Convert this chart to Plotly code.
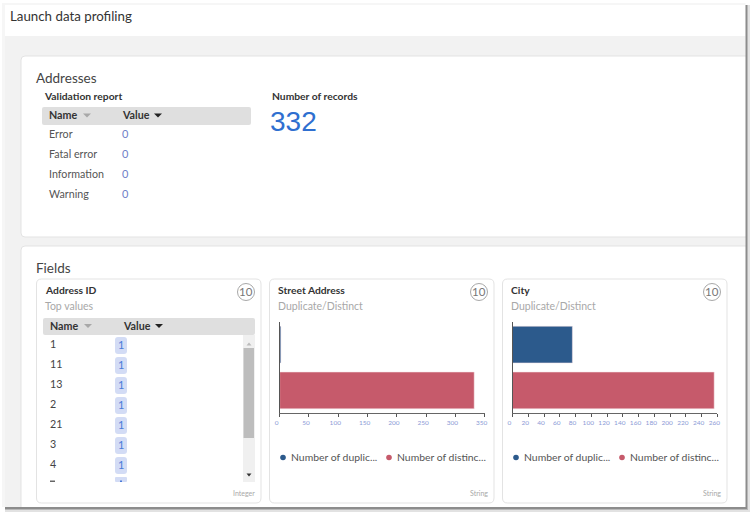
import plotly.graph_objects as go

W = 754
H = 517

# data
report_names = ["Error", "Fatal error", "Information", "Warning"]
report_values = [0, 0, 0, 0]
record_count = 332

top_names = ["1", "11", "13", "2", "21", "3", "4", "7"]
top_values = [1, 1, 1, 1, 1, 1, 1, 1]

bar_labels = ["Number of distinct values", "Number of duplicate values"]
street_values = [332, 2]
city_values = [256, 76]
street_ticks = [0, 50, 100, 150, 200, 250, 300, 350]
city_ticks = list(range(0, 261, 20))
legend_labels = ["Number of duplic...", "Number of distinc..."]

BLUE = "#2c5a8c"
RED = "#c65a6b"
TEXT = "#3c3c3c"
FONT = "Lato"

shapes = []
notes = []


def px(x):
    return x / W


def py(y):
    return 1 - y / H


def rect(x0, y0, x1, y1, fill, line=None, radius=0):
    s = dict(type="rect", xref="paper", yref="paper", layer="below",
             x0=px(x0), x1=px(x1), y0=py(y1), y1=py(y0), fillcolor=fill,
             line=dict(color=line or fill, width=1 if line else 0))
    if radius:
        # rounded box, drawn as a paper path
        r_x, r_y = radius / W, radius / H
        a, b, c, d = px(x0), px(x1), py(y1), py(y0)
        s = dict(type="path", xref="paper", yref="paper", layer="below",
                 path=f"M {a+r_x} {d} L {b-r_x} {d} Q {b} {d} {b} {d-r_y} "
                      f"L {b} {c+r_y} Q {b} {c} {b-r_x} {c} L {a+r_x} {c} "
                      f"Q {a} {c} {a} {c+r_y} L {a} {d-r_y} Q {a} {d} {a+r_x} {d} Z",
                 fillcolor=fill, line=dict(color=line or fill, width=1 if line else 0))
    shapes.append(s)


def text(x, y, s, size=11, color=TEXT, bold=False, anchor="left", font=FONT):
    if bold:
        s = f"<b>{s}</b>"
    notes.append(dict(x=px(x), y=py(y - 0.7), xref="paper", yref="paper", text=s, showarrow=False,
                      xanchor=anchor, yanchor="middle", align=anchor,
                      font=dict(size=size, color=color, family=font),
                      borderpad=0, borderwidth=0))


def dot(x, y, r, fill, line=None):
    shapes.append(dict(type="circle", xref="paper", yref="paper", layer="below",
                       x0=px(x - r), x1=px(x + r), y0=py(y + r), y1=py(y - r), fillcolor=fill,
                       line=dict(color=line or fill, width=1 if line else 0)))


def tri(x, y, color):
    a, b, c = px(x - 4), px(x + 4), px(x)
    t, u = py(y - 2), py(y + 2)
    shapes.append(dict(type="path", xref="paper", yref="paper", layer="below",
                       path=f"M {a} {t} L {b} {t} L {c} {u} Z", fillcolor=color, line=dict(width=0)))


def table_head(x0, x1, y0, y1, name_x, value_x, mid):
    rect(x0, y0, x1, y1, "#dfdfdf", radius=2)
    text(name_x, mid, "Name", 10.7, "#333333", True)
    tri(name_x + 38, mid, "#a8a8a8")
    text(value_x, mid, "Value", 10.7, "#333333", True)
    tri(value_x + 36, mid, "#222222")


# page
rect(2, 3, 745.5, 507, "#f6f6f6")
rect(5, 5, 745.5, 507, "#f2f2f2")
rect(5, 5, 745.5, 36, "#ffffff")
text(10, 17, "Launch data profiling", 13.3, "#333333")

# addresses card
rect(21, 56, 752, 237, "#ffffff", "#e3e3e3", 4)
text(36, 79, "Addresses", 13.5, "#444444")
text(44, 97, "Validation report", 10.3, "#333333", True)
table_head(42, 251, 107, 125, 49, 122, 115.5)
for i, name in enumerate(report_names):
    y = 134 + i * 20
    text(49, y, name, 10.7, "#555555")
    text(122, y + 0.5, str(report_values[i]), 11, "#6f7fc8")
text(272, 97, "Number of records", 10.3, "#333333", True)
text(270, 122, str(record_count), 28, "#2f6fd0", font="Liberation Sans")

# fields card
rect(21, 246, 752, 515, "#ffffff", "#e3e3e3", 4)

# window shadow goes over the cut-off cards
rect(745.5, 5, 747, 509, "#8c8c8c")
rect(747, 5, 748, 510, "#b8b8b8")
rect(748, 5, 750, 512, "#e2e2e2")
rect(750, 0, 754, 517, "#ffffff")
rect(5, 507, 747, 509, "#8c8c8c")
rect(5, 509, 748, 510, "#b8b8b8")
rect(5, 510, 750, 512, "#e2e2e2")
rect(0, 512, 754, 517, "#ffffff")

text(36, 269, "Fields", 13.5, "#444444")

cards = [(36, 261), (269, 494), (502, 727)]
titles = ["Address ID", "Street Address", "City"]
subtitles = ["Top values", "Duplicate/Distinct", "Duplicate/Distinct"]
types = ["Integer", "String", "String"]
for (x0, x1), title, sub, kind in zip(cards, titles, subtitles, types):
    rect(x0 + 0.5, 279, x1, 503, "#ffffff", "#e3e3e3", 5)
    text(x0 + 8.5, 291, title, 10.3, "#333333", True)
    text(x0 + 8.5, 307, sub, 10.5, "#a8a8a8")
    dot(x1 - 15, 292, 8.5, "#ffffff", "#a8a8a8")
    text(x1 - 15, 292, "10", 11.5, "#777777", anchor="center")
    text(x1 - 6, 494, kind, 7, "#a8a8a8", anchor="right")

# top values table in first card
table_head(43, 255, 318, 335, 50, 123, 326)
for i, name in enumerate(top_names[:-1]):
    y = 344 + i * 20
    text(50, y, name, 10.7, "#444444")
    rect(115, y - 7, 127, y + 10, "#d3dcf5", radius=3)
    text(121, y + 1.5, str(top_values[i]), 11, "#4a7ad8", anchor="center")
# last row is clipped by the table bottom
rect(115, 477, 127, 482, "#d3dcf5", radius=1)
rect(50, 480.5, 55, 482, "#666666")
rect(120, 480.5, 122, 482, "#4a7ad8")
rect(243, 335, 255, 482, "#f0f0f0")
rect(243.5, 348, 254, 438, "#bdbdbd")
tri(249, 344, "#bbbbbb")
shapes[-1]["path"] = f"M {px(246.5)} {py(345.5)} L {px(251.5)} {py(345.5)} L {px(249)} {py(342.5)} Z"
tri(249, 475, "#333333")
shapes[-1]["path"] = f"M {px(246.5)} {py(473.5)} L {px(251.5)} {py(473.5)} L {px(249)} {py(476.5)} Z"

# legends of the bar cards
for x in [269, 502]:
    dot(x + 14, 457.5, 2.8, BLUE)
    text(x + 21.5, 457.5, legend_labels[0], 10.4, "#555555")
    dot(x + 120, 457.5, 2.8, RED)
    text(x + 127.5, 457.5, legend_labels[1], 10.4, "#555555")

fig = go.Figure()
plots = [("x", "y", street_values, street_ticks, 279.7, 484.7),
         ("x2", "y2", city_values, city_ticks, 512.5, 717.3)]
for xa, ya, values, ticks, left, right in plots:
    fig.add_trace(go.Bar(y=bar_labels, x=values, orientation="h", xaxis=xa, yaxis=ya,
                         marker=dict(color=[RED, BLUE], line=dict(color="#f3dfe2", width=0.5)),
                         width=0.8, showlegend=False))
    axis_x = dict(domain=[px(left), px(right)], range=[0, ticks[-1]], tickvals=ticks, ticks="outside",
                  ticklen=3, tickcolor="#555555", showgrid=False, zeroline=False, showline=True,
                  linecolor="#666666", linewidth=1, anchor=ya, ticklabelshift=-3,
                  tickfont=dict(size=6.5, color="#8b9ad6", family=FONT), tickangle=0)
    axis_y = dict(domain=[py(413.3), py(321.7)], showticklabels=False, ticks="", showgrid=False,
                  zeroline=False, showline=True, linecolor="#555555", linewidth=1, anchor=xa,
                  type="category", categoryorder="array", categoryarray=bar_labels)
    if xa == "x":
        fig.update_layout(xaxis=axis_x, yaxis=axis_y)
    else:
        fig.update_layout(xaxis2=axis_x, yaxis2=axis_y)

fig.update_layout(width=W, height=H, margin=dict(l=0, r=0, t=0, b=0, pad=0, autoexpand=False),
                  paper_bgcolor="#ffffff", plot_bgcolor="rgba(0,0,0,0)",
                  shapes=shapes, annotations=notes, bargap=0.2)

fig.write_html("out.html", config={"displayModeBar": False},
               post_script="document.body.style.margin='0';document.body.style.overflow='hidden';")
